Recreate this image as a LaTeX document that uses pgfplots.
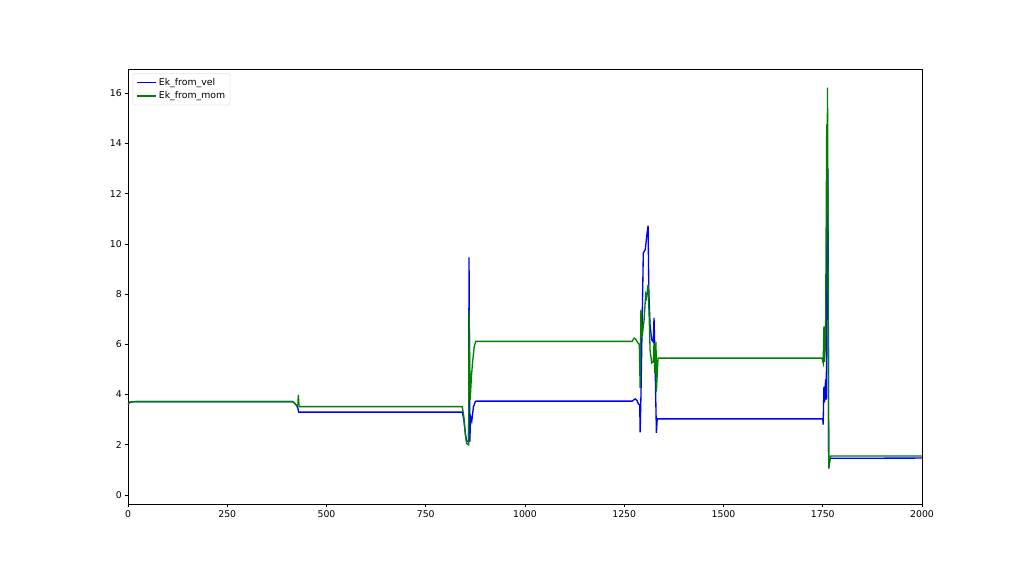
\documentclass[border=0pt]{standalone}
\usepackage{fontspec}
\setmainfont{DejaVu Sans}
\usepackage{pgfplots}
\pgfplotsset{compat=1.18}

\definecolor{mplblue}{RGB}{0,0,255}
\definecolor{mplgreen}{RGB}{0,128,0}

\begin{document}
\begin{tikzpicture}
% 1 px = 1.125 pt, page 1024 x 576 px
\path[use as bounding box] (-144pt,-81pt) rectangle (1008pt,567pt);
\begin{axis}[
  at={(0,0)}, anchor=south west,
  scale only axis,
  width=893.25pt, height=489.375pt,
  xmin=0, xmax=2000,
  ymin=-0.36, ymax=16.97,
  xtick={0,250,...,2000},
  ytick={0,2,...,16},
  tick pos=left,
  tick align=outside,
  major tick length=3.5pt,
  every tick/.style={black, line width=0.8pt},
  axis line style={black, line width=0.8pt},
  tick label style={font=\fontsize{10.5}{12}\selectfont},
  /pgf/number format/assume math mode=true,
  /pgf/number format/1000 sep={},
  legend style={at={(0.006,0.99)}, anchor=north west,
    draw=black!20, rounded corners=2pt, fill=white,
    font=\fontsize{10.5}{12}\selectfont,
    row sep=1.5pt, inner sep=3.5pt},
  legend cell align=left,
  legend image code/.code={\draw[#1, line width=1.7pt] (0pt,0pt) -- (22pt,0pt);},
]
\addplot[mplblue, line width=1.5pt] coordinates {
  (0,3.62) (5,3.70) (20,3.72) (415,3.72) (420,3.65) (425,3.56)
  (428,3.45) (430,3.30) (842,3.30) (846,3.0) (850,2.4) (853,2.15)
  (858,2.13) (859,9.47) (861,2.13) (863,3.12) (866,2.95) (870,3.5)
  (875,3.73) (880,3.74) (1270,3.74) (1275,3.80) (1278,3.83) (1282,3.76)
  (1286,3.62) (1289,3.60) (1290,2.49) (1292,3.9) (1298,9.64) (1303,9.78)
  (1307,10.37) (1310,10.73) (1312,8.05) (1315,6.78) (1319,6.18) (1323,6.1)
  (1325,7.05) (1327,5.79) (1331,2.47) (1333,3.03) (1750,3.03) (1751,2.80)
  (1753,4.32) (1755,3.7) (1757,4.6) (1759,3.8) (1761,13.7) (1762,12.3)
  (1763,13.0) (1765,1.05) (1768,1.46) (2000,1.47)
};
\addlegendentry{Ek\_from\_vel}
\addplot[mplgreen, line width=1.5pt] coordinates {
  (0,3.62) (5,3.70) (20,3.72) (415,3.72) (420,3.65) (425,3.56)
  (428,3.60) (429,3.99) (431,3.52) (842,3.52) (846,3.1) (850,2.4)
  (853,2.05) (858,2.0) (859,7.38) (862,3.8) (865,4.7) (868,5.3)
  (872,5.9) (876,6.12) (1270,6.12) (1275,6.25) (1279,6.2) (1285,6.05)
  (1288,5.99) (1290,4.27) (1292,7.38) (1295,6.32) (1300,6.98) (1304,7.98)
  (1306,7.86) (1310,8.38) (1313,6.98) (1315,5.79) (1319,5.26) (1323,5.3)
  (1325,6.05) (1327,4.86) (1330,6.1) (1331,4.12) (1335,5.45) (1748,5.45)
  (1751,5.26) (1753,6.72) (1754,5.3) (1757,6.0) (1760,14.76) (1761,12.3)
  (1762,16.23) (1765,1.07) (1770,1.55) (2000,1.55)
};
\addlegendentry{Ek\_from\_mom}
\end{axis}
\end{tikzpicture}
\end{document}
